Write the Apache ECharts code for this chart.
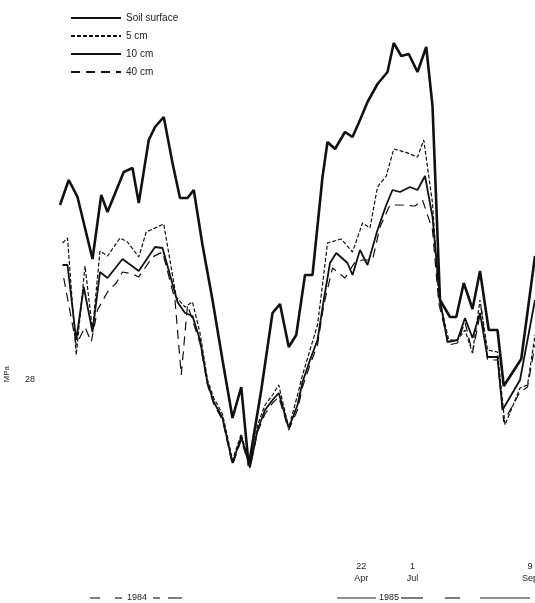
<!DOCTYPE html>
<html lang="en">
<head>
    <meta charset="UTF-8">
    <title>Soil water potential</title>
    <script type="text/javascript" src="https://cdn.jsdelivr.net/npm/echarts@6/dist/echarts.min.js"></script>
</head>
<body style="margin:0;background:#fff">
<div id="main" style="width: 535px;height:603px;"></div>
<script type="text/javascript">
    // [day, value]
    var soilSurface = [[0,45.5],[7,48.0],[14,46.3],[26,40.1],[33,46.5],[38,44.8],[51,48.8],[58,49.2],[63,45.7],[71,52.0],[76,53.3],[83,54.3],[90,49.7],[96,46.2],[102,46.2],[107,47.0],[114,41.5],[122,36.0],[130,30.0],[138,24.2],[145,27.3],[151,19.4],[161,27.0],[170,34.7],[176,35.6],[183,31.3],[189,32.5],[196,38.5],[202,38.5],[210,48.3],[214,51.8],[220,51.1],[228,52.8],[234,52.3],[240,54.0],[246,55.8],[254,57.6],[262,58.8],[267,61.7],[273,60.4],[279,60.6],[286,58.8],[293,61.3],[298,55.4],[304,36.0],[312,34.3],[317,34.3],[323,37.7],[330,35.1],[336,38.9],[343,33.0],[350,33.0],[355,27.4],[369,30.1],[380,40.4]];
    var depth5 = [[2,41.7],[6,42.2],[13,30.5],[20,39.4],[26,33.0],[32,40.9],[38,40.4],[48,42.2],[54,41.8],[63,40.3],[69,42.8],[83,43.6],[93,36.3],[100,35.3],[106,35.8],[112,32.7],[118,28.0],[123,26.2],[130,24.6],[138,20.0],[145,22.6],[152,19.3],[158,23.5],[164,25.5],[170,26.5],[175,27.5],[183,23.2],[190,26.5],[194,28.5],[200,31.0],[206,33.5],[210,37.5],[214,41.7],[225,42.1],[234,40.8],[242,43.7],[248,43.2],[254,47.3],[261,48.4],[267,51.1],[276,50.8],[286,50.3],[291,52.0],[298,45.7],[303,36.3],[311,32.0],[318,32.0],[324,33.0],[330,30.7],[336,36.0],[342,31.0],[350,30.8],[356,23.5],[368,27.2],[374,27.5],[380,32.5]];
    var depth10 = [[2,39.5],[6,39.5],[13,32.0],[19,37.3],[26,32.8],[32,38.8],[38,38.2],[50,40.1],[63,38.9],[76,41.3],[82,41.2],[94,35.8],[100,34.7],[106,34.4],[112,32.0],[118,27.7],[123,25.8],[130,24.2],[138,19.7],[145,22.3],[152,19.3],[158,23.0],[164,25.0],[170,26.0],[175,26.7],[183,23.2],[190,25.5],[194,27.8],[200,30.0],[206,32.0],[211,36.0],[216,39.7],[221,40.7],[230,39.7],[234,38.5],[240,41.0],[246,39.5],[254,43.0],[261,45.5],[266,47.0],[272,46.8],[280,47.3],[286,47.0],[292,48.4],[298,44.3],[304,36.0],[310,31.8],[318,32.0],[324,34.2],[330,32.2],[336,34.7],[342,30.3],[350,30.3],[354,25.0],[368,28.0],[380,36.0]];
    var depth40 = [[3,38.2],[13,31.5],[20,33.3],[25,31.8],[30,35.0],[38,36.8],[45,37.7],[50,38.8],[58,38.6],[63,38.3],[74,40.3],[82,40.8],[92,36.0],[97,28.5],[102,35.5],[106,34.0],[112,31.7],[118,27.5],[123,25.6],[130,24.0],[138,19.5],[145,22.0],[152,19.2],[158,22.8],[164,24.6],[170,25.7],[175,26.3],[183,23.0],[190,25.0],[194,27.3],[200,29.5],[206,31.5],[211,35.5],[218,39.2],[228,38.2],[236,39.8],[242,40.0],[250,40.0],[256,43.3],[264,45.5],[272,45.5],[284,45.4],[290,46.0],[298,43.0],[303,35.7],[311,31.5],[318,31.7],[324,33.8],[330,30.7],[337,35.2],[342,30.0],[350,30.0],[355,23.8],[368,26.8],[374,27.3],[380,31.5]];

    var tickDays = [241, 282, 376];
    var tickLabels = ['22\nApr', '1\nJul', '9\nSep'];
    var yTicks = [28];

    var ink = '#111';

    function line(name, data, width, type) {
        return {
            name: name,
            type: 'line',
            data: data,
            symbol: 'none',
            animation: false,
            lineStyle: {color: ink, width: width, type: type},
            itemStyle: {color: ink}
        };
    }

    // little dash strokes around the year labels
    function dash(x1, x2) {
        return {type: 'line', shape: {x1: x1, y1: 598, x2: x2, y2: 598},
            style: {stroke: '#222', lineWidth: 1.2}};
    }

    var option = {
        backgroundColor: '#fff',
        animation: false,
        legend: {
            orient: 'vertical',
            left: 70,
            top: 13,
            padding: 0,
            itemWidth: 50,
            itemHeight: 10,
            itemGap: 8,
            itemStyle: {opacity: 0},
            textStyle: {fontSize: 10, color: '#222'},
            data: ['Soil surface', '5 cm', '10 cm', '40 cm']
        },
        grid: {left: 60, right: 0, top: 30, bottom: 123, outerBoundsMode: 'none'},
        xAxis: {
            type: 'value',
            min: 0,
            max: 380,
            axisLine: {show: false},
            axisTick: {show: false},
            splitLine: {show: false},
            axisLabel: {
                customValues: tickDays,
                margin: 81,
                fontSize: 9,
                lineHeight: 12,
                color: '#222',
                formatter: function (v) {
                    return tickLabels[tickDays.indexOf(v)];
                }
            }
        },
        yAxis: {
            type: 'value',
            min: 18,
            max: 63,
            axisLine: {show: false},
            axisTick: {show: false},
            splitLine: {show: false},
            axisLabel: {customValues: yTicks, margin: 25, fontSize: 9, color: '#222'}
        },
        graphic: [
            {type: 'text', left: 3, top: 366, rotation: Math.PI / 2,
                style: {text: 'MPa', fontSize: 8, fill: '#222'}},
            {type: 'text', left: 127, top: 593,
                style: {text: '1984', fontSize: 9, fill: '#222'}},
            {type: 'text', left: 379, top: 593,
                style: {text: '1985', fontSize: 9, fill: '#222'}},
            dash(90, 100), dash(115, 122), dash(153, 160), dash(168, 182),
            dash(337, 376), dash(401, 423), dash(445, 460), dash(480, 530)
        ],
        series: [
            line('Soil surface', soilSurface, 2.6, 'solid'),
            line('5 cm', depth5, 1.2, [4, 2]),
            line('10 cm', depth10, 1.8, 'solid'),
            line('40 cm', depth40, 1.2, [9, 6])
        ]
    };

    var myChart = echarts.init(document.getElementById('main'));
    myChart.setOption(option);
</script>
</body>
</html>
